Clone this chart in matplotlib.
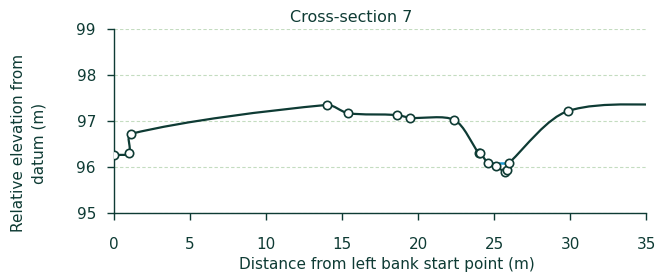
import numpy as np
import matplotlib
matplotlib.use("Agg")
import matplotlib.pyplot as plt
from matplotlib.path import Path
from matplotlib.patches import PathPatch

# データ (断面7)
distance = [0.0, 1.0, 1.1, 14.0, 15.4, 18.6, 19.5, 22.4, 24.0, 24.1, 24.6, 25.1, 25.7, 25.85, 26.0, 29.9]
elevation = [96.26, 96.30, 96.72, 97.35, 97.17, 97.13, 97.07, 97.02, 96.30, 96.30, 96.09, 96.02, 95.90, 95.94, 96.09, 97.22]
# 右端の点 (グラフ範囲の外側)
end_distance = 38.0
end_elevation = 97.36

water_x = [24.6, 26.0]
water_y = [96.08, 96.08]

x_ticks = [0, 5, 10, 15, 20, 25, 30, 35]
y_ticks = [95, 96, 97, 98, 99]

dark = "#0e3b34"
grid_col = "#c4dcc0"
water_col = "#1f9bd1"

plt.rcParams['font.family'] = ['DejaVu Sans']

fig = plt.figure(figsize=(6.56, 2.73), dpi=100)
ax = fig.add_axes([114 / 656, 1 - 213 / 273, 532 / 656, 184 / 273])
ax.set_xlim(0, 35)
ax.set_ylim(95, 99)


# スプライン の制御点を画面座標で計算
def spline_path(xs, ys, tension=0.3):
    pts = ax.transData.transform(np.column_stack([xs, ys]))
    n = len(pts)
    cps = []
    for i in range(n):
        prev = pts[max(i - 1, 0)]
        cur = pts[i]
        nxt = pts[min(i + 1, n - 1)]
        d01 = np.hypot(*(cur - prev))
        d12 = np.hypot(*(nxt - cur))
        tot = d01 + d12
        s01 = d01 / tot if tot else 0
        s12 = d12 / tot if tot else 0
        cps.append((cur - tension * s01 * (nxt - prev), cur + tension * s12 * (nxt - prev)))
    verts = [pts[0]]
    codes = [Path.MOVETO]
    for i in range(1, n):
        verts += [cps[i - 1][1], cps[i][0], pts[i]]
        codes += [Path.CURVE4] * 3
    verts = ax.transData.inverted().transform(np.array(verts))
    return Path(verts, codes)


line_x = distance + [end_distance]
line_y = elevation + [end_elevation]
curve = PathPatch(spline_path(line_x, line_y), facecolor="none", edgecolor=dark, lw=1.6, zorder=3)
ax.add_patch(curve)
curve.set_clip_box(ax.bbox)

ax.plot(water_x, water_y, color=water_col, lw=1.8, zorder=4)
ax.plot(distance, elevation, linestyle="none", marker="o", ms=6, mfc="white", mec=dark, mew=1.2, zorder=5)

ax.set_xticks(x_ticks)
ax.set_yticks(y_ticks)
ax.grid(axis="y", color=grid_col, linestyle=(0, (3, 2)), lw=0.8)
for s in ["top", "right"]:
    ax.spines[s].set_visible(False)
for s in ["left", "bottom"]:
    ax.spines[s].set_color(dark)
    ax.spines[s].set_linewidth(1.0)
ax.tick_params(colors=dark, labelcolor=dark, labelsize=11, length=5, width=1.0)
ax.tick_params(axis="x", pad=12)
ax.tick_params(axis="y", pad=8)

fig.text(387 / 656, 1 - 265 / 273, "Distance from left bank start point (m)", color=dark, fontsize=11,
         ha="center", va="center")
fig.text(28.5 / 656, 1 - 143 / 273, "Relative elevation from\ndatum (m)", color=dark, fontsize=11,
         ha="center", va="center", rotation=90, multialignment="center", linespacing=1.45)
fig.text(351 / 656, 1 - 18 / 273, "Cross-section 7", color=dark, fontsize=11.5, ha="center", va="center")

fig.savefig("out.png", dpi=100)
